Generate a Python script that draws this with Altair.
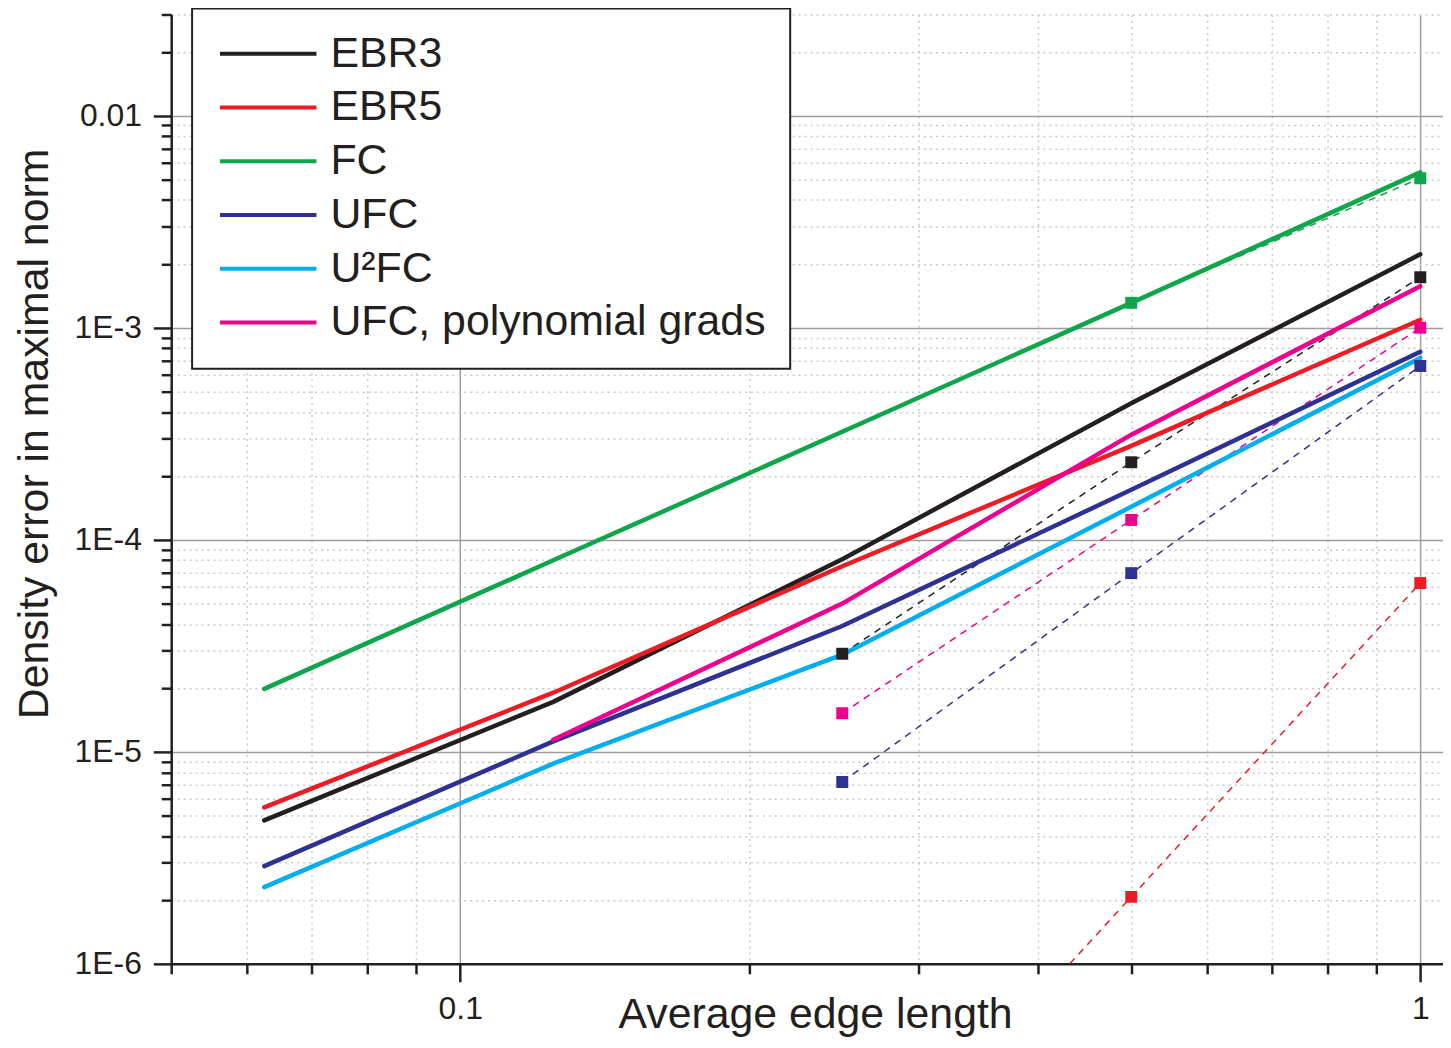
import altair as alt
import pandas as pd

FONT = "Liberation Sans"
INK = "#231f20"

# ---- data ----
SERIES = ["EBR3", "EBR5", "FC", "UFC", "U²FC", "UFC, polynomial grads"]
COLORS = ["#231f20", "#ed1c24", "#0ea54b", "#2e3192", "#00aeef", "#ec008c"]
H = [0.0625, 0.125, 0.25, 0.5, 1.0]

EBR3 = [4.75e-6, 1.72e-5, 8.1e-5, 4.4e-4, 2.22e-3]
EBR5 = [5.47e-6, 1.9e-5, 7.5e-5, 2.77e-4, 1.09e-3]
FC = [1.98e-5, 8.0e-5, 3.23e-4, 1.31e-3, 5.4e-3]
UFC = [2.89e-6, 1.12e-5, 3.92e-5, 1.72e-4, 7.7e-4]
U2FC = [2.3e-6, 8.8e-6, 2.87e-5, 1.43e-4, 7.2e-4]
UFC_POLY = [None, 1.14e-5, 5.0e-5, 3.13e-4, 1.57e-3]

# dashed series with square markers
EBR3_REF = [None, None, 2.9e-5, 2.32e-4, 1.73e-3]
EBR5_REF = [None, None, 6.8e-8, 2.07e-6, 6.25e-5]
FC_REF = [None, None, None, 1.31e-3, 5.07e-3]
UFC_REF = [None, None, 7.2e-6, 6.96e-5, 6.6e-4]
POLY_REF = [None, None, 1.52e-5, 1.24e-4, 1.0e-3]

X_DOMAIN = [0.05, 1.056]
Y_DOMAIN = [1e-6, 0.03]
X_MAJOR = [0.1, 1.0]
X_MINOR = [0.05, 0.06, 0.07, 0.08, 0.09, 0.2, 0.3, 0.4, 0.5, 0.6, 0.7, 0.8, 0.9]
Y_MAJOR = [1e-6, 1e-5, 1e-4, 1e-3, 1e-2]
Y_LABELS = ["1E-6", "1E-5", "1E-4", "1E-3", "0.01"]
Y_MINOR = [2e-6, 3e-6, 4e-6, 5e-6, 6e-6, 7e-6, 8e-6, 9e-6,
           2e-5, 3e-5, 4e-5, 5e-5, 6e-5, 7e-5, 8e-5, 9e-5,
           2e-4, 3e-4, 4e-4, 5e-4, 6e-4, 7e-4, 8e-4, 9e-4,
           2e-3, 3e-3, 4e-3, 5e-3, 6e-3, 7e-3, 8e-3, 9e-3,
           2e-2, 3e-2]


def long_table(pairs):
    rows = []
    for name, vals in pairs:
        for h, v in zip(H, vals):
            if v is not None:
                rows.append({"h": h, "err": v, "series": name})
    return pd.DataFrame(rows)


df_solid = long_table(zip(SERIES, [EBR3, EBR5, FC, UFC, U2FC, UFC_POLY]))
df_ref = long_table([("EBR3", EBR3_REF), ("EBR5", EBR5_REF), ("FC", FC_REF),
                     ("UFC", UFC_REF), ("UFC, polynomial grads", POLY_REF)])

y_label_expr = " : ".join(
    f"abs(log(datum.value) - log({v})) < 0.01 ? '{lab}'" for v, lab in zip(Y_MAJOR, Y_LABELS)
) + " : ''"

xs = alt.Scale(type="log", domain=X_DOMAIN, nice=False)
ys = alt.Scale(type="log", domain=Y_DOMAIN, nice=False)
cs = alt.Scale(domain=SERIES, range=COLORS)

common = dict(domainColor=INK, domainWidth=2.5, tickColor=INK, tickWidth=2.5,
              labelFont=FONT, labelFontSize=32, labelColor=INK,
              titleFont=FONT, titleFontSize=43, titleFontWeight="normal", titleColor=INK)

x_major = alt.Axis(orient="bottom", values=X_MAJOR, format="~g", tickSize=18, labelPadding=12,
                   grid=True, gridColor="#9d9d9d", gridWidth=1.5, labelFlush=False,
                   title="Average edge length", titleX=647, titleY=64, titleAngle=0,
                   titleAlign="center", titleBaseline="alphabetic", **common)
y_major = alt.Axis(orient="left", values=Y_MAJOR, labelExpr=y_label_expr, tickSize=18,
                   labelPadding=12, grid=True, gridColor="#9d9d9d", gridWidth=1.5,
                   labelFlush=False, labelBaseline="middle",
                   title="Density error in maximal norm", titleX=-124, titleY=421,
                   titleAngle=270, titleAlign="center", titleBaseline="alphabetic", **common)
x_minor = alt.Axis(orient="bottom", values=X_MINOR, labels=False, tickSize=10, tickWidth=2.5,
                   tickColor=INK, domain=False, grid=True, gridColor="#c9c9c9",
                   gridDash=[2, 4], gridWidth=1.5, title=None)
y_minor = alt.Axis(orient="left", values=Y_MINOR, labels=False, tickSize=10, tickWidth=2.5,
                   tickColor=INK, domain=False, grid=True, gridColor="#c9c9c9",
                   gridDash=[2, 4], gridWidth=1.5, title=None)

legend = alt.Legend(title=None, orient="none", legendX=21, legendY=-6,
                    symbolType="M-10,0H10", symbolSize=94, symbolStrokeWidth=4,
                    symbolOffset=31, labelOffset=41, rowPadding=10, padding=24,
                    labelFont=FONT, labelFontSize=43, labelColor=INK, labelLimit=700,
                    fillColor="white", strokeColor=INK)

solid = alt.Chart(df_solid).mark_line(strokeWidth=4.5, strokeCap="round", clip=True).encode(
    x=alt.X("h:Q", scale=xs, axis=x_major),
    y=alt.Y("err:Q", scale=ys, axis=y_major),
    color=alt.Color("series:N", scale=cs, legend=legend),
)

dashed = alt.Chart(df_ref).mark_line(strokeWidth=1.5, strokeDash=[7, 6], clip=True).encode(
    x=alt.X("h:Q", scale=xs, axis=x_minor),
    y=alt.Y("err:Q", scale=ys, axis=y_minor),
    color=alt.Color("series:N", scale=cs, legend=None),
)

points = alt.Chart(df_ref).mark_point(shape="square", filled=True, size=144, opacity=1,
                                      clip=True).encode(
    x=alt.X("h:Q", scale=xs, axis=None),
    y=alt.Y("err:Q", scale=ys, axis=None),
    color=alt.Color("series:N", scale=cs, legend=None),
)

chart = (
    alt.layer(dashed, solid, points)
    .resolve_axis(x="independent", y="independent")
    .resolve_legend(color="independent")
    .properties(width=1278, height=954,
                autosize=alt.AutoSizeParams(type="none"),
                padding={"left": 164, "top": 4, "right": 0, "bottom": 74})
    .configure(font=FONT)
    .configure_view(strokeWidth=0)
    .configure_legend(strokeWidth=2)
)

chart.save("out.html", embed_options={"renderer": "svg", "actions": False})
